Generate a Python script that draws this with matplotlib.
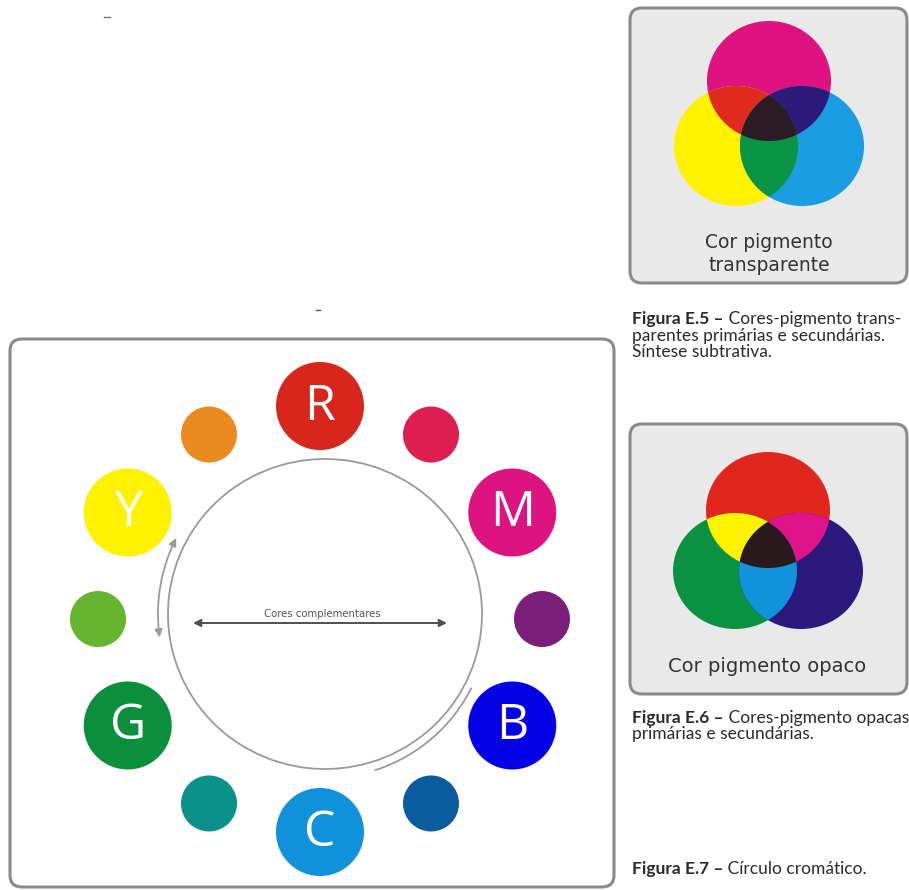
import numpy as np
import matplotlib
matplotlib.use('Agg')
import matplotlib.pyplot as plt
from matplotlib.patches import Ellipse, Circle, Polygon, FancyBboxPatch, FancyArrowPatch
from matplotlib.path import Path

# colour wheel (clockwise from top)
wheel_labels = ['R', '', 'M', '', 'B', '', 'C', '', 'G', '', 'Y', '']
wheel_colors = ['#d9261c', '#dc1f50', '#dd137f', '#7c1f7b', '#0500e6', '#0a5c9e',
                '#0f92da', '#0a928a', '#0b8f3d', '#65b52f', '#fff200', '#eb8a1e']
wheel_angles = [90, 60, 30, 0, -30, -60, -90, -120, -150, 180, 150, 120]

# venn panels: single circles (top, left, right), pairs, triple
transp_colors = ['#df1380', '#fff200', '#1a9de2']
transp_pairs = {(0, 1): '#df2a1d', (0, 2): '#2c1b7a', (1, 2): '#0a9446'}
transp_all = '#2a1b24'
opaque_colors = ['#e0261d', '#0a9142', '#2b1a7c']
opaque_pairs = {(0, 1): '#fff200', (0, 2): '#e0148a', (1, 2): '#1093dc'}
opaque_all = '#2a1a1e'

captions = [
    ('Figura E.5 –', [' Cores-pigmento trans-', 'parentes primárias e secundárias.', 'Síntese subtrativa.']),
    ('Figura E.6 –', [' Cores-pigmento opacas', 'primárias e secundárias.']),
    ('Figura E.7 –', [' Círculo cromático.']),
]
caption_y = [319, 718, 869]

fig = plt.figure(figsize=(9.09, 8.9), dpi=100)
ax = fig.add_axes([0, 0, 1, 1])
ax.set_xlim(0, 909)
ax.set_ylim(890, 0)
ax.axis('off')


def box(x0, y0, x1, y1, fc):
    ax.add_patch(FancyBboxPatch((x0, y0), x1 - x0, y1 - y0,
                                boxstyle='round,pad=0,rounding_size=12',
                                fc=fc, ec='#8a8a8a', lw=2.2))


def region(centers, rx, ry, idx):
    t = np.linspace(0, 2 * np.pi, 1440)
    pts = []
    for i in idx:
        p = np.c_[centers[i][0] + rx * np.cos(t), centers[i][1] + ry * np.sin(t)]
        ok = np.ones(len(p), bool)
        for j in idx:
            if j != i:
                ok &= ((p[:, 0] - centers[j][0]) / rx) ** 2 + ((p[:, 1] - centers[j][1]) / ry) ** 2 <= 1
        pts.append(p[ok])
    pts = np.vstack(pts)
    c = pts.mean(0)
    return pts[np.argsort(np.arctan2(pts[:, 1] - c[1], pts[:, 0] - c[0]))]


def venn(cx, top_y, dy, singles, pairs, triple, rx=62, ry=60):
    centers = [(cx, top_y), (cx - 33, top_y + dy), (cx + 33, top_y + dy)]
    for (x, y), col in zip(centers, singles):
        ax.add_patch(Ellipse((x, y), 2 * rx, 2 * ry, fc=col, ec='none'))
    for (i, j), col in pairs.items():
        ax.add_patch(Polygon(region(centers, rx, ry, [i, j]), fc=col, ec='none'))
    ax.add_patch(Polygon(region(centers, rx, ry, [0, 1, 2]), fc=triple, ec='none'))


# right panels
box(630, 8, 907, 283, '#e9e9e9')
venn(769, 81, 65, transp_colors, transp_pairs, transp_all)
ax.text(769, 254, 'Cor pigmento\ntransparente', ha='center', va='center',
        fontsize=13.5, color='#333333', linespacing=1.3)

box(630, 424, 907, 694, '#e9e9e9')
venn(768, 510, 61, opaque_colors, opaque_pairs, opaque_all, ry=58)
ax.text(767, 666, 'Cor pigmento opaco', ha='center', va='center',
        fontsize=14, color='#333333')

# colour wheel panel
box(10, 339, 614, 887, 'white')
wx, wy, rx, ry = 320, 619, 222, 213
for lab, col, a in zip(wheel_labels, wheel_colors, wheel_angles):
    x = wx + rx * np.cos(np.radians(a))
    y = wy - ry * np.sin(np.radians(a))
    ax.add_patch(Circle((x, y), 44 if lab else 28, fc=col, ec='none'))
    if lab:
        ax.text(x, y + 1, lab, ha='center', va='center', color='white',
                fontsize=36, family='Open Sans')

cx, cy, cr = 325, 614, 156
ax.add_patch(Ellipse((cx, cy), 2 * cr + 2, 2 * cr - 2, fc='none', ec='#9a9a9a', lw=1.3))

t = np.radians(np.linspace(153, 188, 60))
arc = np.c_[cx + 167 * np.cos(t), cy - 167 * np.sin(t)]
ax.add_patch(FancyArrowPatch(path=Path(arc[::-1]), arrowstyle='<|-|>',
                             mutation_scale=11, color='#9a9a9a', lw=1.3))
t = np.radians(np.linspace(-27, -72, 60))
ax.plot(cx + 164 * np.cos(t), cy - 164 * np.sin(t), color='#9a9a9a', lw=1.3)

ax.annotate('', xy=(447, 623), xytext=(193, 623),
            arrowprops=dict(arrowstyle='<|-|>', color='#505050', lw=1.4,
                            mutation_scale=11, shrinkA=0, shrinkB=0))
ax.text(322, 614, 'Cores complementares', ha='center', va='center',
        fontsize=7.3, color='#555555')

# stray marks in the blank area
ax.plot([104, 110], [17, 17], color='#777777', lw=1)
ax.plot([316, 320], [310, 310], color='#555555', lw=1)

# captions with bold lead-in
fig.canvas.draw()
renderer = fig.canvas.get_renderer()
inv = ax.transData.inverted()
for (lead, lines), y0 in zip(captions, caption_y):
    tb = ax.text(632, y0, lead, ha='left', va='center', fontsize=12.5,
                 family='Lato', weight='bold', color='#2b2b2b')
    x1 = inv.transform((tb.get_window_extent(renderer).x1, 0))[0]
    ax.text(x1, y0, lines[0], ha='left', va='center', fontsize=12.5,
            family='Lato', color='#2b2b2b')
    for k, line in enumerate(lines[1:], 1):
        ax.text(632, y0 + 16.5 * k, line, ha='left', va='center', fontsize=12.5,
                family='Lato', color='#2b2b2b')

fig.savefig('out.png', dpi=100)
